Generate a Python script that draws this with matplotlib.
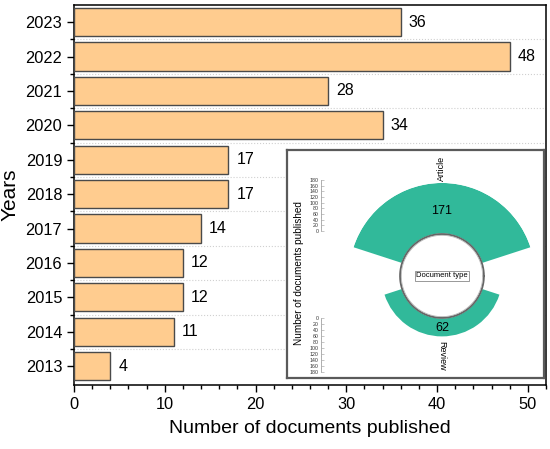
import numpy as np
import matplotlib
matplotlib.use("Agg")
import matplotlib.pyplot as plt
from matplotlib.ticker import MultipleLocator, FixedLocator

plt.rcParams['font.family'] = ['Liberation Sans', 'DejaVu Sans']

# data
years = ['2013', '2014', '2015', '2016', '2017', '2018', '2019', '2020', '2021', '2022', '2023']
docs = [4, 11, 12, 12, 14, 17, 17, 34, 28, 48, 36]
doc_types = ['Article', 'Review']
type_counts = [171, 62]

bar_col = '#FFCC8F'
edge_col = '#4a4a4a'
green = '#31B99A'

fig = plt.figure(figsize=(5.5, 4.49), dpi=100)
ax = fig.add_axes([0.1345, 0.1425, 0.8582, 0.8464])

y = np.arange(len(years))
ax.barh(y, docs, height=0.82, color=bar_col, edgecolor=edge_col, linewidth=1.0, zorder=3)
for yi, v in zip(y, docs):
    ax.text(v + 0.9, yi, str(v), va='center', ha='left', fontsize=11.5)

ax.set_xlim(0, 52)
ax.set_ylim(-0.55, 10.5)
ax.set_yticks(y)
ax.set_yticklabels(years, fontsize=11.8)
ax.yaxis.set_minor_locator(FixedLocator(y[:-1] + 0.5))
ax.xaxis.set_major_locator(MultipleLocator(10))
ax.xaxis.set_minor_locator(MultipleLocator(2))
ax.tick_params(axis='x', labelsize=11.8)
ax.tick_params(which='major', direction='out', length=5, width=1)
ax.tick_params(which='minor', direction='out', length=3, width=1)
for s in ax.spines.values():
    s.set_linewidth(1.1)
for yg in y[:-1] + 0.5:
    ax.axhline(yg, color='#d0d0d0', lw=0.8, ls=':', zorder=1)
ax.set_xlabel('Number of documents published', fontsize=14, labelpad=6)
ax.set_ylabel('Years', fontsize=15, labelpad=4)

# inset frame
box = fig.add_axes([0.5218, 0.1581, 0.4673, 0.5078])
box.set_xticks([])
box.set_yticks([])
for s in box.spines.values():
    s.set_color('#5a5a5a')
    s.set_linewidth(1.6)
box.set_zorder(5)
box.text(0.045, 0.46, 'Number of documents published', rotation=90,
         ha='center', va='center', fontsize=7.2, transform=box.transAxes)

# polar bars
hole = 140
rmax = hole + 171
pax = fig.add_axes([0.6345, 0.1782, 0.3382, 0.4143], projection='polar')
pax.set_zorder(6)
pax.patch.set_alpha(0)
theta = [np.pi / 2, 3 * np.pi / 2]
width = 0.8 * np.pi
pax.bar(theta, type_counts, width=width, bottom=hole, color=green, edgecolor='none')
tt = np.linspace(0, 2 * np.pi, 200)
pax.fill(tt, np.full_like(tt, hole), color='white', zorder=3)
pax.plot(tt, np.full_like(tt, hole), color='#666666', lw=1.4, zorder=4)
pax.plot(tt, np.full_like(tt, hole - 4), color='#bbbbbb', lw=0.6, zorder=4)
pax.set_ylim(0, rmax)
pax.set_xticks([])
pax.set_yticks([])
pax.grid(False)
pax.spines['polar'].set_visible(False)
pax.text(np.pi / 2, hole + 77, str(type_counts[0]), ha='center', va='center', fontsize=9)
pax.text(3 * np.pi / 2, hole + 33, str(type_counts[1]), ha='center', va='center', fontsize=9)
pax.text(np.pi / 2, rmax + 50, doc_types[0], rotation=90, ha='center', va='center', fontsize=6.5)
pax.text(3 * np.pi / 2, hole + 62 + 65, doc_types[1], rotation=270, ha='center', va='center', fontsize=6.5)
pax.text(0, 0, 'Document type', ha='center', va='center', fontsize=5.5, zorder=5,
         bbox=dict(boxstyle='square,pad=0.15', fc='white', ec='#888888', lw=0.6))

# small radial scales
for bottom_px, top_px, inv in [(449 - 231, 449 - 180, False), (449 - 372, 449 - 318, True)]:
    sax = fig.add_axes([321 / 550, bottom_px / 449, 0.001, (top_px - bottom_px) / 449])
    sax.set_zorder(7)
    sax.patch.set_alpha(0)
    sax.set_ylim(0, 180)
    if inv:
        sax.invert_yaxis()
    sax.set_xticks([])
    sax.yaxis.set_major_locator(MultipleLocator(20))
    sax.yaxis.set_minor_locator(MultipleLocator(5))
    for k in ['top', 'bottom', 'right']:
        sax.spines[k].set_visible(False)
    sax.spines['left'].set_color('#999999')
    sax.spines['left'].set_linewidth(0.5)
    sax.tick_params(axis='y', which='major', labelsize=3.8, length=2, width=0.4,
                    direction='in', pad=1.5, colors='#999999', labelcolor='#333333')
    sax.tick_params(axis='y', which='minor', length=1, width=0.3, direction='in', colors='#999999')

fig.savefig('out.png', dpi=100)
